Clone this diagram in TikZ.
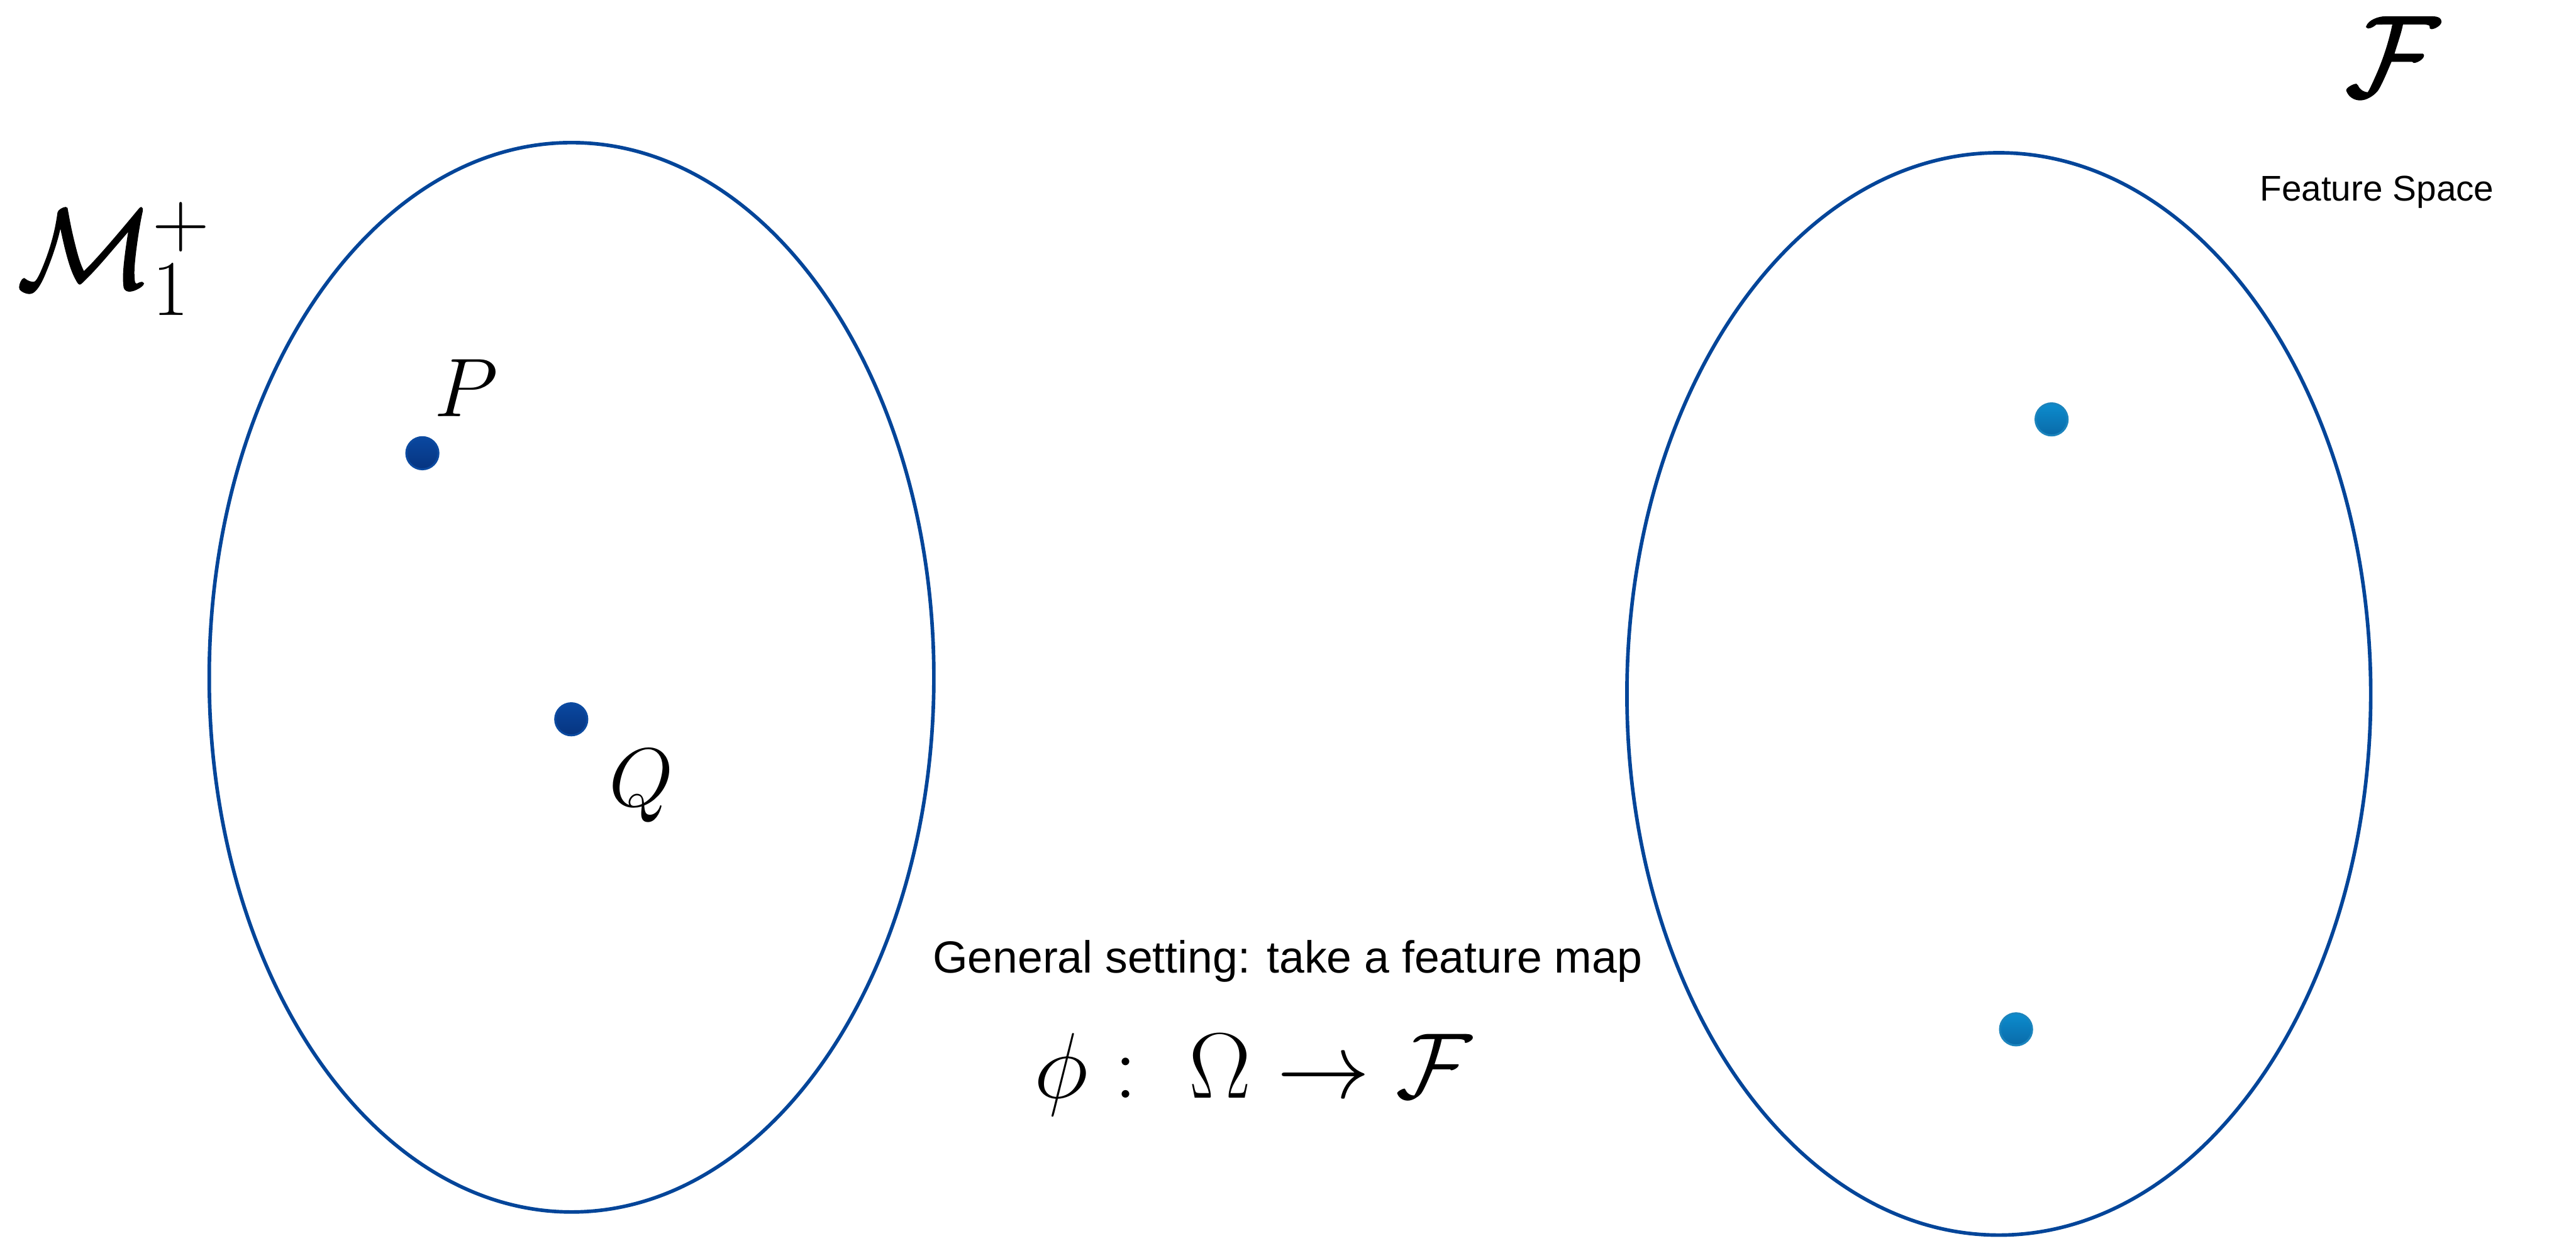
\RequirePackage{fix-cm}
\documentclass[tikz,border=0pt]{standalone}
\usepackage{fontspec}
\setmainfont{Liberation Sans}
\usetikzlibrary{shapes.geometric,backgrounds}

\definecolor{rim}{RGB}{3,69,153}
\definecolor{ringL}{RGB}{12,74,160}
\definecolor{dotLtop}{RGB}{10,72,160}
\definecolor{dotLbot}{RGB}{6,52,128}
\definecolor{ringR}{RGB}{27,132,189}
\definecolor{dotRtop}{RGB}{12,140,206}
\definecolor{dotRbot}{RGB}{10,106,168}

% slightly heavier glyphs: fill and stroke the outline
\newcommand\heavyglyph[1]{\special{pdf:literal direct 2 Tr 0.9 w}#1\special{pdf:literal direct 0 Tr}}

\tikzset{
  oval/.style={ellipse, draw=rim, line width=1.8pt, inner sep=0pt},
  ptdark/.style={circle, minimum size=0.57cm, inner sep=0pt, draw=ringL,
    line width=1pt, top color=dotLtop, bottom color=dotLbot},
  ptlight/.style={circle, minimum size=0.57cm, inner sep=0pt, draw=ringR,
    line width=1pt, top color=dotRtop, bottom color=dotRbot},
  lbl/.style={inner sep=0pt, outer sep=0pt},
  ovalshade/.style={draw=black, opacity=0.06, line width=6pt},
}

\begin{document}
\begin{tikzpicture}[x=1cm,y=1cm]
\useasboundingbox (0,0) rectangle (45.68,22.01);
\fill[white] (0,0) rectangle (45.68,22.01);

% the two sets
\node[oval, minimum width=12.85cm, minimum height=18.97cm] (setM) at (10.135,9.995) {};
\node[oval, minimum width=13.19cm, minimum height=19.20cm] (setF) at (35.445,9.70) {};

% points in the sets
\node[ptdark]  (P)  at (7.49,13.97) {};
\node[ptdark]  (Q)  at (10.13,9.25) {};
\node[ptlight] (fP) at (36.38,14.57) {};
\node[ptlight] (fQ) at (35.75,3.75) {};

% soft shadows under the outlines and points
\begin{scope}[on background layer]
  \draw[ovalshade] ([yshift=-0.12cm]setM.center) ellipse [x radius=6.425, y radius=9.485];
  \draw[ovalshade] ([yshift=-0.12cm]setF.center) ellipse [x radius=6.595, y radius=9.60];
  \foreach \n in {P,Q,fP,fQ} {
    \fill[black,opacity=0.04] ([yshift=-0.09cm]\n.center) circle (0.40);
    \fill[black,opacity=0.06] ([yshift=-0.08cm]\n.center) circle (0.34);
  }
\end{scope}

% labels
\node[lbl, anchor=base west, font=\fontsize{57}{60}\selectfont] (mlab) at (0.30,16.91) {\heavyglyph{$\mathcal{M}$}$_1^+$};
\node[lbl, anchor=base west, font=\fontsize{42}{44}\selectfont] (plab) at (7.70,14.62) {$P$};
\node[lbl, anchor=base west, font=\fontsize{42}{44}\selectfont] (qlab) at (10.80,7.71) {$Q$};
\node[lbl, anchor=base, font=\fontsize{58}{60}\selectfont] (flab) at (42.42,20.31) {\heavyglyph{$\mathcal{F}$}};
\node[lbl, anchor=base, font=\fontsize{18}{22}\selectfont] (fslab) at (42.15,18.45) {Feature Space};
\node[lbl, anchor=base west, font=\fontsize{22.7}{26}\selectfont] (gslab) at (16.54,4.75) {General setting: take a feature map};
\node[lbl, anchor=base west, font=\fontsize{47}{50}\selectfont] (maplab) at (18.34,2.53) {$\phi:\ \Omega\rightarrow\mathcal{F}$};
\end{tikzpicture}
\end{document}
